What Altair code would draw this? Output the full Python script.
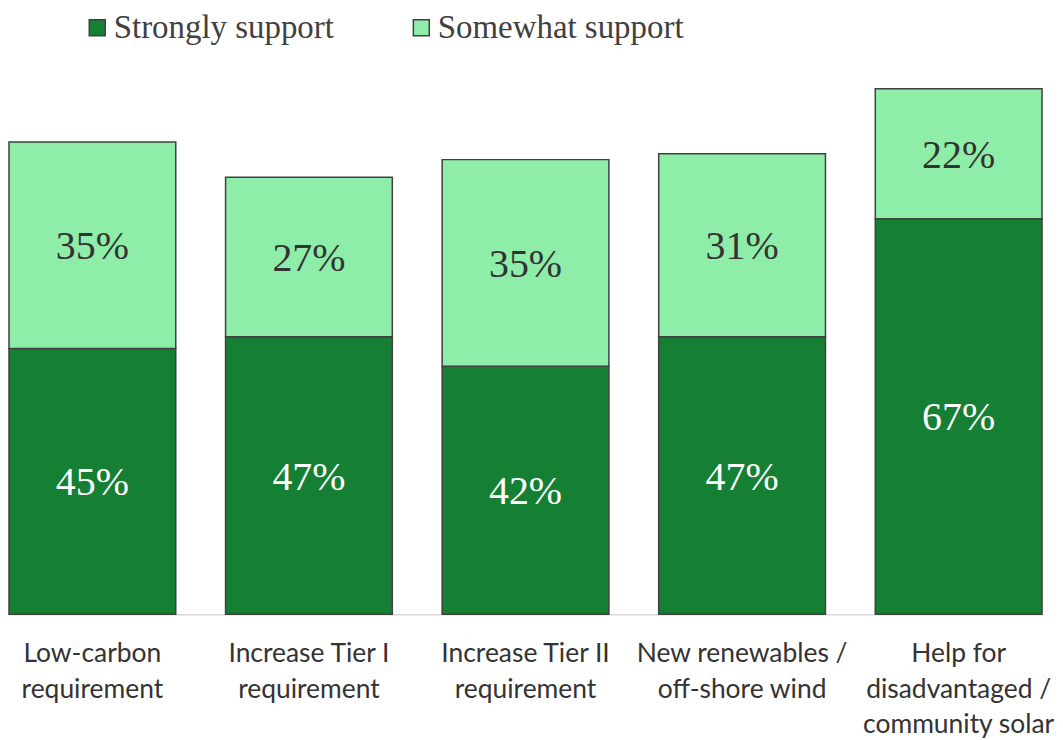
import altair as alt
import pandas as pd

categories = [
    "Low-carbon|requirement",
    "Increase Tier I|requirement",
    "Increase Tier II|requirement",
    "New renewables /|off-shore wind",
    "Help for|disadvantaged /|community solar",
]
series = ["Strongly support", "Somewhat support"]
strongly = [45, 47, 42, 47, 67]
somewhat = [35, 27, 35, 31, 22]
colors = ["#157F34", "#8FEDAA"]
label_colors = ["#FFFFFF", "#333333"]

rows = []
for i, c in enumerate(categories):
    rows.append({"cat": c, "series": series[0], "order": 0, "value": strongly[i]})
    rows.append({"cat": c, "series": series[1], "order": 1, "value": somewhat[i]})
df = pd.DataFrame(rows)

base = alt.Chart(df).transform_stack(
    stack="value", groupby=["cat"], as_=["y0", "y1"],
    sort=[alt.SortField("order", order="ascending")],
).transform_calculate(
    mid="(datum.y0 + datum.y1) / 2",
    lbl="datum.value + '%'",
)

x = alt.X(
    "cat:N", sort=categories, title=None,
    scale=alt.Scale(paddingInner=0.23, paddingOuter=0),
    axis=alt.Axis(
        labelAngle=0, ticks=False, grid=False, domainColor="#D9D9D9",
        domainWidth=1.5, labelFont="Lato", labelFontSize=26.5,
        labelColor="#333333", labelLineHeight=36, labelPadding=26,
        labelExpr="split(datum.label, '|')", labelLimit=300,
    ),
)
yscale = alt.Scale(domain=[0, 102.5], nice=False, zero=True)

bars = base.mark_bar(stroke="#404040", strokeWidth=1.5).encode(
    x=x,
    y=alt.Y("y0:Q", scale=yscale, axis=None),
    y2="y1:Q",
    color=alt.Color(
        "series:N", sort=series,
        scale=alt.Scale(domain=series, range=colors),
        legend=alt.Legend(
            title=None, orient="none", legendX=72, legendY=2,
            direction="horizontal", columns=2, columnPadding=71,
            labelFont="Liberation Serif", labelFontSize=33,
            labelColor="#404040", symbolType="square", symbolSize=256,
            symbolStrokeColor="#404040", symbolStrokeWidth=1.5,
            symbolOpacity=1, labelOffset=0, padding=0, labelLimit=400,
        ),
    ),
)

text = base.mark_text(font="Liberation Serif", fontSize=40, baseline="middle", dy=2).encode(
    x=alt.X("cat:N", sort=categories),
    y=alt.Y("mid:Q", scale=yscale),
    text="lbl:N",
    color=alt.Color("series:N", scale=alt.Scale(domain=series, range=label_colors), legend=None),
)

chart = alt.layer(bars, text).resolve_scale(color="independent").properties(
    width=1036, height=607, padding={"left": 0, "top": 0, "right": 0, "bottom": 0},
).configure_view(stroke=None)

chart.save("out.html", embed_options={"renderer": "svg", "actions": False})
